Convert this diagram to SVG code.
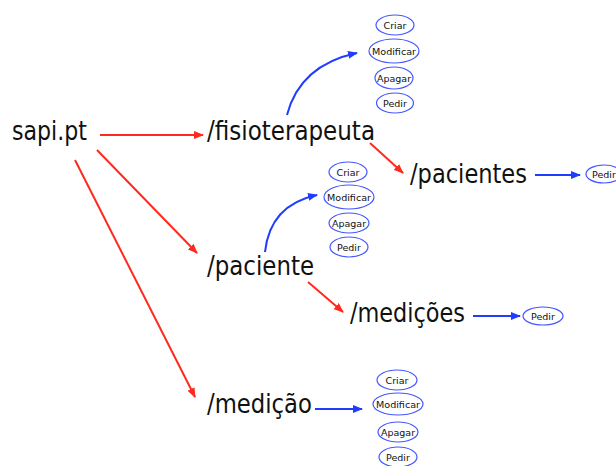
<svg xmlns="http://www.w3.org/2000/svg" width="616" height="466" viewBox="0 0 616 466">
<style>
.lbl{font-family:"DejaVu Sans","Open Sans",sans-serif;font-size:26px;fill:#111}
.op{fill:#fff;stroke:#4456ff;stroke-width:1.2}
.opt{font-family:"DejaVu Sans","Open Sans",sans-serif;font-size:9.5px;fill:#111;text-anchor:middle}
.red{stroke:#ff2a1f;stroke-width:2;fill:none;marker-end:url(#ar)}
.blue{stroke:#1f3cff;stroke-width:2;fill:none;marker-end:url(#ab)}
</style>
<defs>
<marker id="ar" markerWidth="10" markerHeight="8" refX="9" refY="4" orient="auto" markerUnits="userSpaceOnUse"><path d="M0,0 L10,4 L0,8 Z" fill="#ff2a1f"/></marker>
<marker id="ab" markerWidth="10" markerHeight="8" refX="9" refY="4" orient="auto" markerUnits="userSpaceOnUse"><path d="M0,0 L10,4 L0,8 Z" fill="#1f3cff"/></marker>
</defs>
<rect width="616" height="466" fill="#fff"/>
<g id="connectors">
<path class="red" d="M100,135 L203,135"/>
<path class="red" d="M97,150 L197,253"/>
<path class="red" d="M75,160 L195,397"/>
<path class="red" d="M370,143 L403,173"/>
<path class="red" d="M308,282 L343,312"/>
<path class="blue" d="M287,115 Q300,65 357,53"/>
<path class="blue" d="M265,252 Q270,205 317,195"/>
<path class="blue" d="M535,175 L580,175"/>
<path class="blue" d="M473,316 L520,316"/>
<path class="blue" d="M315,409 L362,409"/>
</g>
<g id="sapi"><text class="lbl" x="12" y="140" textLength="75" lengthAdjust="spacingAndGlyphs">sapi.pt</text></g>
<g id="fisioterapeuta"><text class="lbl" x="207" y="140" textLength="168" lengthAdjust="spacingAndGlyphs">/fisioterapeuta</text></g>
<g id="paciente"><text class="lbl" x="207" y="275" textLength="107" lengthAdjust="spacingAndGlyphs">/paciente</text></g>
<g id="medicao"><text class="lbl" x="207" y="413" textLength="105" lengthAdjust="spacingAndGlyphs">/medição</text></g>
<g id="pacientes"><text class="lbl" x="410" y="183" textLength="117" lengthAdjust="spacingAndGlyphs">/pacientes</text></g>
<g id="medicoes"><text class="lbl" x="350" y="322" textLength="115" lengthAdjust="spacingAndGlyphs">/medições</text></g>

<g id="fisio-ops">
<ellipse class="op" cx="395" cy="25" rx="19" ry="10"/><text class="opt" x="395" y="28.5">Criar</text>
<ellipse class="op" cx="394" cy="51" rx="25" ry="12"/><text class="opt" x="394" y="54.5" textLength="44" lengthAdjust="spacingAndGlyphs">Modificar</text>
<ellipse class="op" cx="394" cy="78" rx="19" ry="11"/><text class="opt" x="394" y="81.5">Apagar</text>
<ellipse class="op" cx="395" cy="103" rx="18.5" ry="10"/><text class="opt" x="395" y="106.5">Pedir</text>
</g>
<g id="paciente-ops">
<ellipse class="op" cx="348" cy="172" rx="19" ry="10"/><text class="opt" x="348" y="175.5">Criar</text>
<ellipse class="op" cx="349" cy="197" rx="25" ry="12"/><text class="opt" x="349" y="200.5" textLength="44" lengthAdjust="spacingAndGlyphs">Modificar</text>
<ellipse class="op" cx="349" cy="223" rx="20" ry="10"/><text class="opt" x="349" y="226.5">Apagar</text>
<ellipse class="op" cx="349" cy="247" rx="19" ry="10"/><text class="opt" x="349" y="250.5">Pedir</text>
</g>
<g id="medicao-ops">
<ellipse class="op" cx="397" cy="380" rx="20" ry="10"/><text class="opt" x="397" y="383.5">Criar</text>
<ellipse class="op" cx="398" cy="404" rx="25" ry="11"/><text class="opt" x="398" y="407.5" textLength="44" lengthAdjust="spacingAndGlyphs">Modificar</text>
<ellipse class="op" cx="398" cy="432" rx="20" ry="10"/><text class="opt" x="398" y="435.5">Apagar</text>
<ellipse class="op" cx="398" cy="457" rx="19" ry="10"/><text class="opt" x="398" y="460.5">Pedir</text>
</g>
<g id="pacientes-ops">
<ellipse class="op" cx="604" cy="174" rx="18" ry="9"/><text class="opt" x="604" y="177.5">Pedir</text>
</g>
<g id="medicoes-ops">
<ellipse class="op" cx="543" cy="316" rx="20" ry="9"/><text class="opt" x="543" y="319.5">Pedir</text>
</g>
</svg>
